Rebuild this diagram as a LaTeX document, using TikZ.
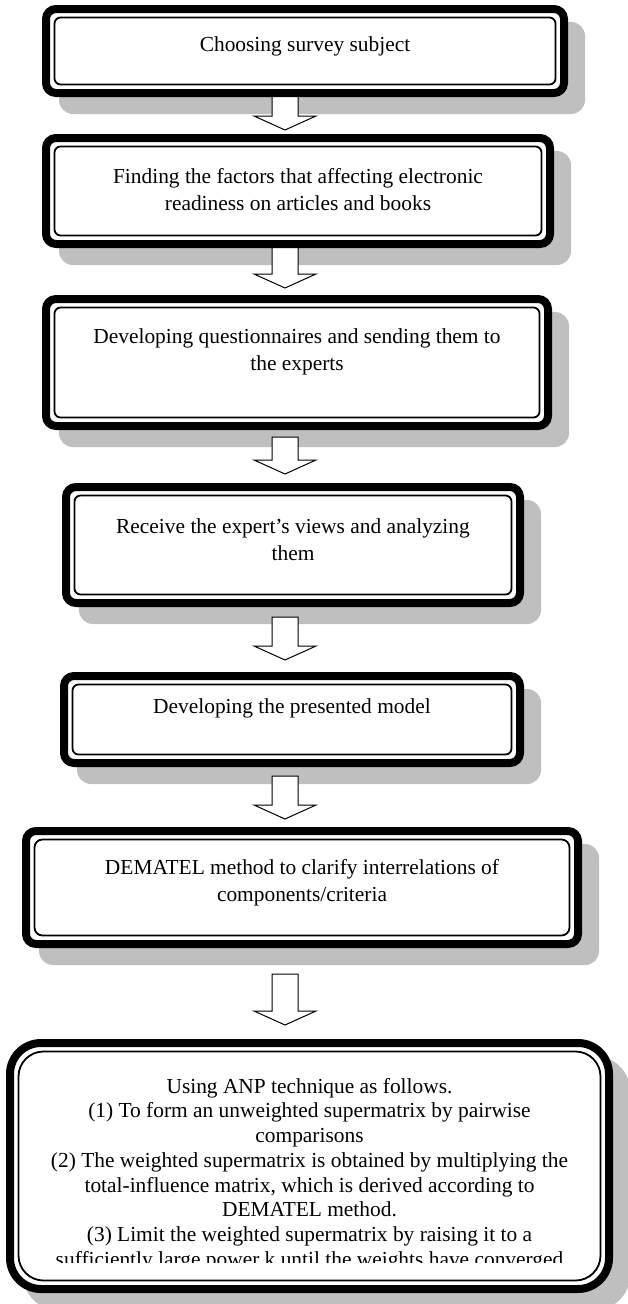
\documentclass[tikz,border=0pt]{standalone}
\usepackage{fontspec}
\setmainfont{Liberation Serif}
\usetikzlibrary{backgrounds,calc}

\tikzset{
  stagebox/.style={draw,rectangle,line width=8pt,fill=white,rounded corners=10pt,outer sep=0pt,inner sep=0pt},
  stagetext/.style={align=center,inner sep=0pt,font=\fontsize{21.4}{27}\selectfont},
  innerframe/.style={line width=1.8pt},
  boxshadow/.style={fill=gray!50},
  blockarrow/.style={draw,fill=white,line width=1pt,line join=miter}
}

\begin{document}
\begin{tikzpicture}[x=1pt,y=-1pt]
      \useasboundingbox (0,0) rectangle (628,1304);

      % boxes
      \node[stagebox,minimum width=518pt,minimum height=84pt] (S1) at (305,51) {};
      \node[stagebox,minimum width=504pt,minimum height=106pt] (S2) at (298,191) {};
      \node[stagebox,minimum width=502pt,minimum height=127pt] (S3) at (297,362.5) {};
      \node[stagebox,minimum width=454pt,minimum height=116pt] (S4) at (293,545) {};
      \node[stagebox,minimum width=456pt,minimum height=87pt] (S5) at (292,719.5) {};
      \node[stagebox,minimum width=552pt,minimum height=113pt] (S6) at (302,887.5) {};
      \node[stagebox,minimum width=599pt,minimum height=246pt,rounded corners=31pt] (S7) at (309.5,1166) {};

      \foreach \n/\r in {S1/6,S2/6,S3/6,S4/6,S5/6,S6/8,S7/25}{%
        \draw[innerframe,rounded corners=\r pt] ([shift={(8.5pt,-8.5pt)}]\n.north west) rectangle ([shift={(-8.5pt,8.5pt)}]\n.south east);
      }

      % texts
      \node[stagetext] (T1) at (305,46) {Choosing survey subject};
      \node[stagetext] (T2) at (298,189.5) {Finding the factors that affecting electronic\\readiness on articles and books};
      \node[stagetext] (T3) at (297,352) {Developing questionnaires and sending them to\\the experts};
      \node[stagetext] (T4) at (293,539.5) {Receive the expert’s views and analyzing\\them};
      \node[stagetext] (T5) at (292,708) {Developing the presented model};
      \node[stagetext] (T6) at (302,882.5) {DEMATEL method to clarify interrelations of\\components/criteria};
      \begin{scope}
        \clip (0,1045) rectangle (628,1262);
        \node[stagetext,font=\fontsize{21.4}{24.7}\selectfont] (T7) at (309.5,1174.5) {Using ANP technique as follows.\\(1) To form an unweighted supermatrix by pairwise\\comparisons\\(2) The weighted supermatrix is obtained by multiplying the\\total-influence matrix, which is derived according to\\DEMATEL method.\\(3) Limit the weighted supermatrix by raising it to a\\sufficiently large power k until the weights have converged};
      \end{scope}

      % shadows and arrows behind the boxes
      \begin{scope}[on background layer]
        \foreach \n/\r in {S1/14,S2/14,S3/14,S4/14,S5/14,S6/14,S7/35}{%
          \fill[boxshadow,rounded corners=\r pt] ([shift={(13pt,-13pt)}]\n.north west) rectangle ([shift={(21pt,-21pt)}]\n.south east);
        }
        \foreach \i/\ys/\ye in {1/93/130,2/240/288,3/437/474,4/617/660,5/776/819,6/974/1025}{%
          \coordinate (A\i s) at (285,\ys);
          \coordinate (A\i e) at (285,\ye);
          \draw[blockarrow] let \p1=(A\i s),\p2=(A\i e) in
            (\x1-13pt,\y1) -- (\x1-13pt,\y2+14pt) -- (\x1-31pt,\y2+14pt) -- (\p2)
            -- (\x1+31pt,\y2+14pt) -- (\x1+13pt,\y2+14pt) -- (\x1+13pt,\y1) -- cycle;
        }
      \end{scope}

    \end{tikzpicture}
\end{document}
